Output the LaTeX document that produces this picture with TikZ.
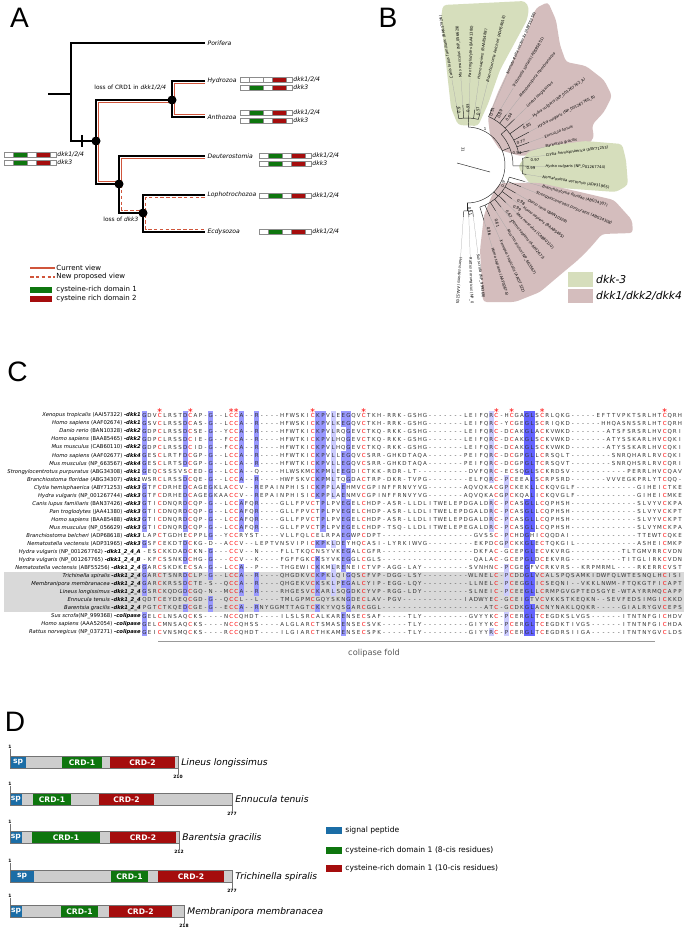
\documentclass[tikz,border=0pt]{standalone}
\usepackage{fontspec}
\setmainfont{DejaVu Sans}
\newfontfamily\panelfont{Liberation Sans}
\usetikzlibrary{positioning}
\definecolor{treeRed}{HTML}{D0553B}
\definecolor{crdGreen}{HTML}{0E760E}
\definecolor{crdRed}{HTML}{A50D0D}
\definecolor{spBlue}{HTML}{1B6DA6}
\definecolor{dkkThree}{HTML}{D6DEBC}
\definecolor{dkkOne}{HTML}{D4BDBD}
\definecolor{hlDark}{HTML}{6464FF}
\definecolor{hlMid}{HTML}{9999FF}
\definecolor{hlLight}{HTML}{CCCCFF}
\definecolor{rowGrey}{HTML}{D9D9D9}
\definecolor{barGrey}{HTML}{CDCDCD}

\newcommand\fsz[1]{\fontsize{#1}{#1}\selectfont}

% domain bar of panel A
\newcommand\dombar[5]{%
  \draw[barline, fill=white] (#2,#3) rectangle ++(52,5);
  \draw[barline, fill=#4] (#2+9,#3) rectangle ++(14,5);
  \draw[barline, fill=crdRed] (#2+32,#3) rectangle ++(14,5);
  \node[dkk] (#1) at (#2+52,#3+2.5) {#5};}

% leaf of the circular tree
\newcommand\bleaf[6]{%
  \draw[bbranch] (#2:#5) -- (#2:#3);
  \draw[bguide] (#2:#3) -- (#2:#4);
  \node[bleaf, rotate=#2] (#1) at (#2:#4) {#6};}

% alignment rows
\newcount\seqcol
\newcommand\setcons[3]{\expandafter\def\csname cons#1\endcsname{#2}%
  \expandafter\def\csname shade#1\endcsname{#3}}
\setcons{0}{G}{hlMid}\setcons{8}{D}{hlMid}\setcons{13}{G}{hlMid}
\setcons{19}{A}{hlMid}\setcons{22}{R}{hlMid}\setcons{34}{K}{hlMid}
\setcons{35}{P}{hlMid}\setcons{37}{L}{hlLight}\setcons{39}{E}{hlMid}
\setcons{40}{G}{hlMid}\setcons{68}{R}{hlLight}\setcons{71}{P}{hlLight}
\setcons{75}{G}{hlDark}\setcons{76}{L}{hlDark}
\newcommand\seqres[1]{%
  \pgfmathsetmacro\resx{144.5+5.1*\the\seqcol}%
  \def\thisres{#1}%
  \expandafter\ifx\csname cons\the\seqcol\endcsname\thisres
    \edef\thisshade{\csname shade\the\seqcol\endcsname}%
    \fill[fill=\thisshade] (\resx-2.55,\rowy-4.02) rectangle (\resx+2.55,\rowy+4.02);
  \fi
  \if C#1\def\rescol{red}\else\def\rescol{black!80}\fi
  \node[seqres, text=\rescol] (res\rowid-\the\seqcol) at (\resx,\rowy+2) {#1};
  \global\advance\seqcol by 1\relax}
\def\seqloop#1{\ifx#1\relax\else\seqres{#1}\expandafter\seqloop\fi}
\newcommand\alnrow[4]{%
  \def\rowid{#1}%
  \pgfmathsetmacro\rowy{415+8.04*(#1-1)}%
  \node[seqname] (name#1) at (141.5,\rowy+1.8) {#2 \textbf{\textit{-#3}}};
  \global\seqcol=0
  \seqloop#4\relax}

% protein of panel D
\newcommand\protein[6]{%
  \fill[barGrey] (10,#2) rectangle (#3,#2+12.5);
  \foreach \da/\db/\dc/\dl in {#6}{%
    \fill[fill=\dc] (\da,#2) rectangle (\db,#2+12.5);
    \node[domtext] (#1-\dl) at ({(\da+\db)/2},#2+6.5) {\dl};}
  \draw[draw=black!55, line width=0.4pt] (10,#2) rectangle (#3,#2+12.5);
  \node[posnum, anchor=south] (#1-first) at (10,#2-7) {1};
  \draw[black!55, line width=0.3pt] (#1-first.south) -- (10,#2);
  \node[posnum, anchor=north] (#1-last) at (#3,#2+19) {#4};
  \draw[black!55, line width=0.3pt] (#3,#2+12.5) -- (#1-last.north);
  \node[protname] (#1) at (#3+2,#2+6.5) {#5};}

\begin{document}
\begin{tikzpicture}[x=0.03cm, y=-0.03cm,
    panel/.style={inner sep=0pt, font=\panelfont\fsz{24pt}},
    blk/.style={line width=1.6pt, black},
    cur/.style={line width=1.2pt, treeRed},
    prop/.style={line width=1.2pt, treeRed, dash pattern=on 3pt off 2pt},
    taxon/.style={anchor=west, inner sep=2pt, font=\fsz{5.2pt}\itshape},
    note/.style={anchor=west, inner sep=1pt, font=\fsz{5pt}},
    dkk/.style={anchor=west, inner sep=1pt, font=\fsz{5.2pt}\itshape},
    barline/.style={draw=black!45, line width=0.3pt},
    legtext/.style={anchor=west, inner sep=1pt, font=\fsz{6pt}},
    bbranch/.style={line width=0.4pt, black!85},
    bguide/.style={line width=0.2pt, black!35},
    bleaf/.style={anchor=west, inner sep=0.3pt, font=\fsz{3.2pt}},
    bval/.style={inner sep=0pt, font=\fsz{3.3pt}},
    bleg/.style={anchor=west, inner sep=0pt, font=\fsz{9.2pt}\itshape},
    seqname/.style={anchor=base east, inner sep=0.5pt, font=\fsz{4.5pt}},
    seqres/.style={anchor=base, inner sep=0pt, font=\fsz{4.7pt}},
    astx/.style={inner sep=0pt, text=red, font=\fsz{8pt}},
    foldtext/.style={inner sep=0pt, text=black!65, font=\fsz{7pt}},
    domtext/.style={text=white, inner sep=0pt, font=\fsz{6.5pt}\bfseries},
    protname/.style={anchor=west, inner sep=1pt, font=\fsz{7.8pt}\itshape},
    posnum/.style={inner sep=0.3pt, font=\fsz{3.8pt}\bfseries},
    dlegtext/.style={anchor=west, inner sep=1pt, font=\fsz{6.5pt}}]
\useasboundingbox (0,0) rectangle (685,931);
\fill[white] (0,0) rectangle (685,931);

% ---------------- panel A ----------------
\node[panel] (labA) at (19.5,18) {A};
\coordinate (stemA) at (48,94);
\coordinate (nRoot) at (71,94);
\coordinate (nEum) at (96,141);
\coordinate (nCni) at (172,100);
\coordinate (nBil) at (119,184);
\coordinate (nPro) at (143,213);
\node[taxon] (porifera) at (205,43) {Porifera};
\node[taxon] (hydrozoa) at (205,81) {Hydrozoa};
\node[taxon] (anthozoa) at (205,117) {Anthozoa};
\node[taxon] (deutero) at (205,156) {Deuterostomia};
\node[taxon] (lopho) at (205,195) {Lophotrochozoa};
\node[taxon] (ecdy) at (205,232) {Ecdysozoa};

\draw[blk] (stemA) -- (nRoot);
\draw[blk] (porifera.west) -| (nRoot) |- (nEum);
\draw[blk] (nEum) |- (nCni);
\draw[blk] (hydrozoa.west) -| (nCni) |- (anthozoa.west);
\draw[blk] (nEum) |- (nBil);
\draw[blk] (deutero.west) -| (nBil) |- (nPro);
\draw[blk] (lopho.west) -| (nPro) |- (ecdy.west);
\draw[blk, line width=1pt] (82,135) -- (82,147);

% current and proposed views
\draw[cur] ([xshift=2.2pt]nEum) |- ([yshift=-2.2pt]nCni);
\draw[cur] ([yshift=-2.2pt]hydrozoa.west) -| ([xshift=2.2pt]nCni) |- ([yshift=2.2pt]anthozoa.west);
\draw[cur] ([xshift=2.2pt]nEum) |- ([yshift=2.2pt]nBil);
\draw[cur] ([yshift=-2.2pt]deutero.west) -| ([xshift=2.2pt]nBil);
\draw[prop] ([xshift=2.2pt]nBil) |- ([yshift=2.2pt]nPro);
\draw[prop] ([yshift=-2.2pt]lopho.west) -| ([xshift=2.2pt]nPro) |- ([yshift=2.2pt]ecdy.west);

\fill (nEum) circle (4.5);
\fill (nCni) circle (4.5);
\fill (nBil) circle (4.5);
\fill (nPro) circle (4.5);

\node[note] (lossCRD) at (93,88) {loss of CRD1 in \textit{dkk1/2/4}};
\node[note] (lossDkk) at (102,219) {loss of \textit{dkk3}};

\dombar{ancA}{4}{152}{crdGreen}{dkk1/2/4}
\dombar{ancB}{4}{160}{crdGreen}{dkk3}
\dombar{hydA}{240}{77}{white}{dkk1/2/4}
\dombar{hydB}{240}{85}{crdGreen}{dkk3}
\dombar{antA}{240}{110}{crdGreen}{dkk1/2/4}
\dombar{antB}{240}{118}{crdGreen}{dkk3}
\dombar{deuA}{259}{153}{crdGreen}{dkk1/2/4}
\dombar{deuB}{259}{161}{crdGreen}{dkk3}
\dombar{lopA}{259}{193}{crdGreen}{dkk1/2/4}
\dombar{ecdA}{259}{229}{crdGreen}{dkk1/2/4}

% legend A
\coordinate (curL) at (30,268);
\node[legtext] (curT) at (55,268) {Current view};
\draw[cur] (curL) -- (curT.west);
\coordinate (propL) at (30,277);
\node[legtext] (propT) at (55,277) {New proposed view};
\draw[prop] (propL) -- (propT.west);
\fill[crdGreen] (30,287) rectangle (52,293);
\node[legtext] (crdOneT) at (55,290) {cysteine-rich domain 1};
\fill[crdRed] (30,296) rectangle (52,302);
\node[legtext] (crdTwoT) at (55,299) {cysteine rich domain 2};

% ---------------- panel B ----------------
\node[panel] (labB) at (388,18) {B};
\begin{scope}
  \clip (345,0) rectangle (685,302);
  \fill[dkkThree, rounded corners=3pt] (458,125) -- (451,108) -- (441,18) -- (443,5) -- (525,1) -- (529,8)
    -- (527,20) -- (500,70) -- (488,104) -- (478,126) -- cycle;
  \fill[dkkOne, rounded corners=3pt] (488,118) -- (498,92) -- (512,62) -- (528,30) -- (536,8) -- (548,2)
    -- (556,20) -- (560,45) -- (566,62) -- (586,66) -- (604,80) -- (612,96) -- (604,112) -- (592,125)
    -- (594,138) -- (582,150) -- (520,156) -- (500,150) -- (490,135) -- cycle;
  \fill[dkkThree, rounded corners=3pt] (518,167) -- (528,152) -- (548,146) -- (585,141) -- (622,144)
    -- (626,160) -- (628,185) -- (616,192) -- (560,188) -- (530,184) -- cycle;
  \fill[dkkOne, rounded corners=3pt] (500,183) -- (540,183) -- (580,192) -- (614,200) -- (632,220)
    -- (633,233) -- (602,234) -- (590,248) -- (578,260) -- (560,275) -- (540,292) -- (515,302)
    -- (483,302) -- (480,250) -- (484,215) -- (492,195) -- cycle;

  \begin{scope}[shift={(467,165)}, y=0.03cm]
    \draw[bbranch] (88:38) arc[start angle=88, end angle=-90, radius=38];
    \draw[bbranch] (-10,2) -- (23,-7);
    \node[bval, rotate=-90] (rootVal) at (-4,15) {31};
    % dkk-3, vertebrates
    \draw[bbranch] (88:38) -- (88:47);
    \draw[bbranch] (100:47) arc[start angle=100, end angle=76, radius=47];
    \bleaf{canis}{100}{60}{87}{47}{\textit{Canis lupus familiaris} (BAN37426)}
    \bleaf{musB}{94}{60}{87}{47}{\textit{Mus musculus} (NP\_056629)}
    \bleaf{pan}{88}{58}{87}{47}{\textit{Pan troglodytes} (JAA41380)}
    \bleaf{homoB}{82}{56}{86}{47}{\textit{Homo sapiens} (BAA85488)}
    \bleaf{branchB}{76}{54}{85}{47}{\textit{Branchiostoma belcheri} (ADP68618)}
    % dkk1/2/4 invertebrates and cnidarian dkk-3
    \draw[bbranch] (22:38) -- (22:46);
    \draw[bbranch] (42:46) arc[start angle=42, end angle=-1, radius=46];
    \draw[bbranch] (42:46) -- (42:53);
    \draw[bbranch] (66:53) arc[start angle=66, end angle=13, radius=53];
    \bleaf{nemaA}{66}{62}{99}{53}{\textit{Nematostella vectensis} (ABF55256)}
    \bleaf{trich}{59}{62}{90}{53}{\textit{Trichinella spiralis} (ADS95851)}
    \bleaf{membr}{52}{64}{86}{53}{\textit{Membranipora membranacea}}
    \bleaf{lineus}{44}{66}{83}{53}{\textit{Lineus longissimus}}
    \bleaf{hydraA}{36}{70}{81}{53}{\textit{Hydra vulgaris} (NP\_001267762\_A)}
    \bleaf{hydraB}{28}{70}{80}{53}{\textit{Hydra vulgaris} (NP\_001267765\_B)}
    \bleaf{ennucula}{20}{66}{82}{53}{\textit{Ennucula tenuis}}
    \bleaf{barentsia}{13}{64}{80}{53}{\textit{Barentsia gracilis}}
    \draw[bbranch] (-1:46) -- (-1:56);
    \draw[bbranch] (7:56) arc[start angle=7, end angle=-9, radius=56];
    \bleaf{clytia}{7}{62}{79}{56}{\textit{Clytia hemisphaerica} (ABY71253)}
    \bleaf{hydraC}{-1}{62}{78}{56}{\textit{Hydra vulgaris} (NP\_001267744)}
    \bleaf{nemaB}{-9}{60}{76}{56}{\textit{Nematostella vectensis} (ADP31965)}
    % dkk1/2/4 deuterostomes
    \draw[bbranch] (-45:38) -- (-45:44);
    \draw[bbranch] (-16:44) arc[start angle=-16, end angle=-73, radius=44];
    \bleaf{branchF}{-16}{60}{78}{44}{\textit{Branchiostoma floridae} (ABG34307)}
    \bleaf{strongy}{-22}{58}{74}{44}{\textit{Strongylocentrotus purpuratus} (ABG34308)}
    \bleaf{danio}{-30}{56}{70}{44}{\textit{Danio rerio} (BAN10328)}
    \bleaf{homoC}{-37}{56}{70}{44}{\textit{Homo sapiens} (BAA85465)}
    \bleaf{musC}{-44}{54}{69}{44}{\textit{Mus musculus} (CAB60110)}
    \bleaf{homoD}{-51}{54}{71}{44}{\textit{Homo sapiens} (AAF02677)}
    \bleaf{musD}{-58}{54}{76}{44}{\textit{Mus musculus} (NP\_663567)}
    \bleaf{xenopus}{-66}{56}{82}{44}{\textit{Xenopus tropicalis} (AAI57322)}
    \bleaf{homoE}{-73}{58}{86}{44}{\textit{Homo sapiens} (AAF02674)}
    % colipase
    \draw[bbranch] (-90:38) -- (-90:46);
    \draw[bbranch] (-83:46) arc[start angle=-83, end angle=-94, radius=46];
    \bleaf{sus}{-83}{52}{89}{46}{\textit{Sus scrofa} (NP\_999368)}
    \bleaf{rattus}{-88}{52}{92}{46}{\textit{Rattus norvegicus} (NP\_037271)}
    \bleaf{homoF}{-94}{52}{92}{46}{\textit{Homo sapiens} (AAA52054)}
  \end{scope}

  \foreach \v/\x/\y/\r [count=\i] in {0.9/459/110/90, 0.93/468/108/90, 0.57/478/111/90, 1/485/129/0,
      0.51/492/112/75, 0.89/500/114/70, 0.64/509/117/55, 0.85/527/126/30, 0.77/521/142/15,
      0.54/517/153/0, 0.97/535/160/0, 0.99/531/168/0, 0.9/503/184/80, 0.98/521/202/-30,
      0.99/517/208/-30, 0.67/509/214/-55, 1/511/222/-60, 0.61/497/223/-75, 0.96/489/231/-80,
      0.51/470/211/-80}
    \node[bval, rotate=\r] (boot\i) at (\x,\y) {\v};
\end{scope}

\fill[dkkThree] (568,272) rectangle (593,287);
\node[bleg] (legThree) at (596,279.5) {dkk-3};
\fill[dkkOne] (568,289) rectangle (593,303);
\node[bleg] (legOne) at (596,296) {dkk1/dkk2/dkk4};

% ---------------- panel C ----------------
\node[panel] (labC) at (17.5,371.5) {C};
\fill[rowGrey] (4,571.8) rectangle (684,612);
\foreach \c in {3,9,17,18,33,43,69,72,78,102}
  \node[astx] (ast\c) at ({144.5+5.1*\c},412) {*};

\alnrow{1}{\textit{Xenopus tropicalis} (AAI57322)}{dkk1}{GDVCLRSTDCAP-G-- LCCA--R---- HFWSKICKPVLEEGQVCTKH -RRK-GSHG------- LEIFQRC-HCGAGLSCRLQKG -----EFTTVPKTSRLHTCQRH}
\alnrow{2}{\textit{Homo sapiens} (AAF02674)}{dkk1}{GSVCLRSSDCAS-G-- LCCA--R---- HFWSKICKPVLKEGQVCTKH -RRK-GSHG------- LEIFQRC-YCGEGLSCRIQKD ------HHQASNSSRLHTCQRH}
\alnrow{3}{\textit{Danio rerio} (BAN10328)}{dkk2}{GDPCLRSSDCSE-G-- YCCA--R---- HFWTKICKPVLRQGEVCTKQ -RKK-GSHG------- LEIFQRC-DCAKGLACKVWKD -------ATSFSRSRLHVCQRI}
\alnrow{4}{\textit{Homo sapiens} (BAA85465)}{dkk2}{GDPCLRSSDCIE-G-- FCCA--R---- HFWTKICKPVLHQGEVCTKQ -RKK-GSHG------- LEIFQRC-DCAKGLSCKVWKD -------ATYSSKARLHVCQKI}
\alnrow{5}{\textit{Mus musculus} (CAB60110)}{dkk2}{GDPCLRSSDCID-G-- FCCA--R---- HFWTKICKPVLHQGEVCTKQ -RKK-GSHG------- LEIFQRC-DCAKGLSCKVWKD -------ATYSSKARLHVCQKI}
\alnrow{6}{\textit{Homo sapiens} (AAF02677)}{dkk4}{GESCLRTFDCGP-G-- LCCA--R---- HFWTKICKPVLLEGQVCSRR -GHKDTAQA------- PEIFQRC-DCGPGLLCRSQLT --------SNRQHARLRVCQKI}
\alnrow{7}{\textit{Mus musculus} (NP\_663567)}{dkk4}{GESCLRTSDCGP-G-- LCCA--R---- HFWTKICKPVLLEGQVCSRR -GHKDTAQA------- PEIFQRC-DCGPGLTCRSQVT --------SNRQHSRLRVCQRI}
\alnrow{8}{\textit{Strongylocentrotus purpuratus} (ABG34308)}{dkk1}{GEQCSSSVSCED-G-- LCCA--Q---- HLWSKMCKPMLEEGDICTKK -RDR-LT--------- -DVFQRC-ECSQGLSCKRDSV -----------PERRLHVCQAV}
\alnrow{9}{\textit{Branchiostoma floridae} (ABG34307)}{dkk1}{WSRCLRSSDCQE-G-- LCCA--R---- HWFSKVCKPMLTQGDACTRP -DKR-TVPG------- -ELFQRC-PCEEALSCRPSRD -------VVVEGKPRLYTCQQ-}
\alnrow{10}{\textit{Clytia hemisphaerica} (ABY71253)}{dkk3}{GTFCDRHEDCAGEGKL ACCV--REPAI NPHISICKPPLAEHMVCGPI NFFRNVYVG------- AQVQKACGPCKEKLLCKQVGL F------------GIHEICTKE}
\alnrow{11}{\textit{Hydra vulgaris} (NP\_001267744)}{dkk3}{GTFCDRHEDCAGEGKA ACCV--REPAI NPHISICKPPLAENMVCGPI NFFRNVYVG------- AQVQKACGPCKQALICKQVGL F------------GIHEICMKE}
\alnrow{12}{\textit{Canis lupus familiaris} (BAN37426)}{dkk3}{GTICDNQRDCQP-G-- LCCAFQR---- GLLFPVCTPLPVEGELCHDP -ASR-LLDLITWELEP DGALDRC-PCASGLLCQPHSH -------------SLVYVCKPA}
\alnrow{13}{\textit{Pan troglodytes} (JAA41380)}{dkk3}{GTICDNQRDCQP-G-- LCCAFQR---- GLLFPVCTPLPVEGELCHDP -ASR-LLDLITWELEP DGALDRC-PCASGLLCQPHSH -------------SLVYVCKPT}
\alnrow{14}{\textit{Homo sapiens} (BAA85488)}{dkk3}{GTICDNQRDCQP-G-- LCCAFQR---- GLLFPVCTPLPVEGELCHDP -ASR-LLDLITWELEP DGALDRC-PCASGLLCQPHSH -------------SLVYVCKPT}
\alnrow{15}{\textit{Mus musculus} (NP\_056629)}{dkk3}{GTICDNQRDCQP-G-- LCCAFQR---- GLLFPVCTPLPVEGELCHDP -TSQ-LLDLITWELEP EGALDRC-PCASGLLCQPHSH -------------SLVYMCKPA}
\alnrow{16}{\textit{Branchiostoma belcheri} (ADP68618)}{dkk3}{LAPCTGDHECPPLG-- YCCRYST---- VLLFQLCELRPAEGWPCDPT ---------------- --GVSSC-PCHDGHICQQDAI -------------TTEWTCQKE}
\alnrow{17}{\textit{Nematostella vectensis} (ADP31965)}{dkk3}{GSFCEKDTDCKG-D-- ACCV--LEPTV NSVIPICKPKLDEYHQCASI -LYRKIWVG------- --EKPDCGPCKKGLECTQKGI L------------ASHEICMKP}
\alnrow{18}{\textit{Hydra vulgaris} (NP\_001267762)}{dkk1\_2\_4\_A}{-ESCKKDADCKN-G-- -CCV--N---- FLLTKQCNSYVKEGALCGFR ---------------- --DKFAC-GCEPGLECVKVRG ----------TLTGMVRRCVDN}
\alnrow{19}{\textit{Hydra vulgaris} (NP\_001267765)}{dkk1\_2\_4\_B}{-KFCSSNKDCHG-G-- -CCV--K---- FGFFGKCKSYVKEGGLCGLS ---------------- --QALAC-GCEPGLDCEKVRG ----------TITGLIRKCVDN}
\alnrow{20}{\textit{Nematostella vectensis} (ABF55256)}{dkk1\_2\_4}{GARCSKDKECSA-G-- LCCA--P---- THGEWICKKMLRENEICTVP -AGG-LAY-------- -SVNHNC-PCGEGFVCRKVRS --KRPMRML----RKERRCVST}
\alnrow{21}{\textit{Trichinella spiralis}}{dkk1\_2\_4}{GARCTSNRDCLP-G-- LCCA--R---- QHGDKVCKPKLQIGQSCFVP -DGG-LSY-------- -WLNELC-PCDDGLVCALSPQ SAMKIDWFQLWTESNQLHCISI}
\alnrow{22}{\textit{Membranipora membranacea}}{dkk1\_2\_4}{GARCKRSSDCTE-S-- QCCA--R---- QHGEKVCKSKLPEGALCYIP -EGG-LQY-------- -LLNELC-PCEGGLICSEQNI --VKKLNWM-FTQKGTFICAPT}
\alnrow{23}{\textit{Lineus longissimus}}{dkk1\_2\_4}{GSRCKQDGDCGQ-N-- MCCA--R---- RHGESVCKARLSQGDKCYVP -RGG-LDY-------- -SLNEIC-PCEEGLLCRMPGV GPTEDSGYE-WTAYRRMQCAPP}
\alnrow{24}{\textit{Ennucula tenuis}}{dkk1\_2\_4}{QDTCEYDEQCGD-G-- QCCL--L---- TMLGPMCGQYSKNGDECLAV -PGV------------ IADWYEC-GCEIGTVCVKKST KEQKN--SEVFEDSIMGICKKD}
\alnrow{25}{\textit{Barentsia gracilis}}{dkk1\_2\_4}{PGTCTKQEDCGE-G-- ECCA--RNYGG MTTAGTCKKYVQSGARCGGL ---------------- ----ATC-GCDKGLACNYNAK LQQKR-----GIALRYGVCEPS}
\alnrow{26}{\textit{Sus scrofa}(NP\_999368)}{colipase}{GELCLNSAQCKS---- NCCQHDT---- ILSLSRCALKARENSECSAF -----TLY-------- -GVYYKC-PCERGLTCEGDKS LVGS------ITNTNFGICHDV}
\alnrow{27}{\textit{Homo sapiens} (AAA52054)}{colipase}{GELCMNSAQCKS---- NCCQHSS---- ALGLARCTSMASENSECSVK -----TLY-------- -GIYYKC-PCERGLTCEGDKT IVGS------ITNTNFGICHDA}
\alnrow{28}{\textit{Rattus norvegicus} (NP\_037271)}{colipase}{GEICVNSMQCKS---- RCCQHDT---- ILGIARCTHKAMENSECSPK -----TLY-------- -GIYYRC-PCERGLTCEGDRS IIGA------ITNTNYGVCLDS}

\coordinate (foldL) at (158,641);
\coordinate (foldR) at (655,641);
\draw[black!40, line width=0.6pt] (foldL) -- (foldR);
\node[foldtext, anchor=west] (foldT) at (348,653) {colipase fold};

% ---------------- panel D ----------------
\node[panel] (labD) at (15,722) {D};
\protein{lineus}{756}{178}{210}{Lineus longissimus}{10/26/spBlue/sp, 62/102/crdGreen/CRD-1, 110/175/crdRed/CRD-2}
\protein{ennucula}{793}{232}{277}{Ennucula tenuis}{10/21.5/spBlue/sp, 33/71/crdGreen/CRD-1, 99/154/crdRed/CRD-2}
\protein{barentsia}{831}{179}{212}{Barentsia gracilis}{10/21.5/spBlue/sp, 32/100/crdGreen/CRD-1, 110/176/crdRed/CRD-2}
\protein{trichinella}{870}{232}{277}{Trichinella spiralis}{10/34/spBlue/sp, 111/148/crdGreen/CRD-1, 158/224/crdRed/CRD-2}
\protein{membranipora}{905}{184}{218}{Membranipora membranacea}{10/22/spBlue/sp, 61/98/crdGreen/CRD-1, 109/172/crdRed/CRD-2}

% legend D
\fill[spBlue] (326,827) rectangle (342,834);
\node[dlegtext] (legSp) at (344,830.5) {signal peptide};
\fill[crdGreen] (326,847) rectangle (342,854);
\node[dlegtext] (legCrdA) at (344,850.5) {cysteine-rich domain 1 (8-cis residues)};
\fill[crdRed] (326,865) rectangle (342,872);
\node[dlegtext] (legCrdB) at (344,868.5) {cysteine-rich domain 1 (10-cis residues)};
\end{tikzpicture}
\end{document}
